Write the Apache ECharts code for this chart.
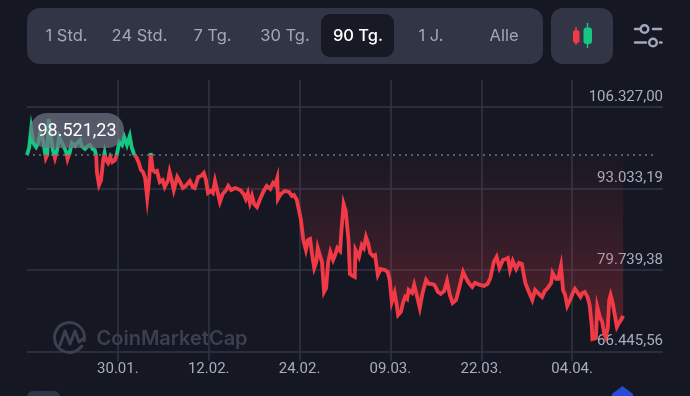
<!DOCTYPE html>
<html><head><meta charset="utf-8">
<style>html,body{margin:0;padding:0;background:#151823}#c{width:690px;height:396px}</style>
<script src="https://cdn.jsdelivr.net/npm/echarts@6/dist/echarts.min.js"></script>
</head><body><div id="c"></div>
<script>
const tabs = ['1 Std.','24 Std.','7 Tg.','30 Tg.','90 Tg.','1 J.','Alle'];
const xTickLabels = ['30.01.','12.02.','24.02.','09.03.','22.03.','04.04.'];
const yTickLabels = ['66.445,56','79.739,38','93.033,19','106.327,00'];
const yMin = 66445.56;
const yStep = 13293.81;
const baseValue = 98521.23;
const baseLabel = '98.521,23';
const days = [-13,-12.7,-12.4,-12.1,-11.7,-11.4,-11.1,-10.7,-10.3,-10.1,-9.9,-9.6,-9.3,-9,-8.7,-8.4,-8,-7.7,-7.4,-7.2,-6.9,-6.6,-6.1,-5.7,-5.4,-5.2,-4.7,-4.3,-4,-3.6,-3.3,-3.1,-3,-2.7,-2.4,-2.1,-1.9,-1.7,-1.4,-1.1,-0.8,-0.4,-0.1,0.2,0.6,0.9,1.3,1.7,2,2.3,2.7,3,3.3,3.6,3.9,4.2,4.5,4.7,5,5.3,5.6,6,6.4,6.7,7.2,7.4,7.7,8,8.5,8.9,9.3,9.7,10.3,10.7,11,11.5,11.9,12.3,12.6,12.9,13.3,13.6,13.9,14.2,14.6,15,15.5,15.8,16.2,16.8,17.5,18,18.3,18.6,18.9,19.2,19.5,19.9,20.3,20.8,21.3,21.8,22.2,22.5,22.8,22.9,23.3,23.9,24.5,24.9,25.2,25.6,25.9,26.2,26.5,26.6,26.9,27.2,27.5,27.8,28.1,28.4,28.6,28.9,29.2,29.5,29.8,30.1,30.4,30.8,31.1,31.4,31.8,32,32.3,32.6,32.8,33,33.2,33.6,33.9,34,34.5,34.9,35.2,35.5,35.8,36.1,36.5,36.8,37.2,37.6,38.2,38.6,38.9,39.2,39.6,39.9,40.1,40.5,40.8,41.1,41.4,41.6,42.1,42.4,42.8,43.2,43.6,44.1,44.5,44.9,45.3,45.8,46.2,46.7,47.1,47.5,47.9,48.4,48.8,49.4,49.8,50.2,50.7,51.1,51.8,52.4,52.9,53.3,53.8,54.2,54.6,55.1,55.5,55.8,56.1,56.5,57,57.4,57.8,58.3,58.7,59.3,59.7,60.1,60.7,61.1,61.5,62,62.2,62.7,63,63.4,63.7,64,64.3,64.7,65.1,65.4,65.8,66.2,66.5,66.8,67.2,67.5,67.8,67.9,68.4,68.6,69,69.3,69.6,69.8,70.1,70.3,70.5,70.8,71.1,71.4,71.7,72,72.3];
const prices = [98503,99644,102741,100459,99807,100459,102089,100948,98014,98500,104371,101763,99318,98014,99318,101437,100459,99807,98992,97851,98829,100459,99970,100622,100948,99970,99481,99970,100133,99481,99318,98340,95732,93613,94428,97688,98829,97688,97199,98177,97362,97688,98829,100622,100133,101437,100133,101600,99644,98666,98014,97199,96058,95732,94754,91494,94754,98829,96058,95732,95895,94102,94428,93287,94428,95732,94428,92798,94917,94102,93124,93450,94265,93287,93124,94917,95080,95569,94428,92309,92635,92309,94265,92798,90842,92146,92798,93450,92798,93124,92798,92146,91331,92309,90679,91820,90516,90027,91168,92472,93450,92961,93939,93613,94754,91331,92146,92635,92472,91820,91983,91168,89538,87908,84974,84322,83018,84648,84811,82203,80084,81062,83344,82203,81062,76172,76824,81062,82692,81388,82203,83344,82855,86278,90516,89375,89049,84648,79106,78780,78617,83018,81877,83833,83344,85137,84159,82529,82040,82203,78943,79921,79758,79432,78128,74542,76009,74053,72423,72912,74379,75357,75031,76498,76009,77313,75520,73564,76009,78128,77476,77476,77313,76172,75846,76335,77965,75683,74379,74868,76661,79432,78454,77639,76987,77639,77313,77150,77476,78454,81062,81877,80084,81388,81551,81714,79758,81225,79921,80899,80736,77639,76498,74868,76498,76009,75357,76335,76824,77639,79269,78291,78291,80410,76498,75683,73890,74868,76009,76661,76009,75357,76009,76172,75357,74053,70793,68511,68674,73727,71934,71282,69326,68837,70304,74868,75683,74379,72423,70467,71119,71608,72260];

const GREEN='#16c784', RED='#f23a47', GRID='#323546', MUTED='#a7adbf', PANEL='#323546', BG='#151823';
const seriesData = days.map((d,i)=>[d,prices[i]]);
const chart = echarts.init(document.getElementById('c'),null,{renderer:'canvas'});

const tabCenters=[66.5,139.5,212.5,285,358,431,504];
const tabGraphics=tabs.map((t,i)=>({type:'text',z:5,x:tabCenters[i],y:36,style:{text:t,fontFamily:'Inter',fontSize:16.5,fontWeight:i===4?500:400,fill:i===4?'#ffffff':'#a1a7bb',align:'center',verticalAlign:'middle'}}));

chart.setOption({
  animation:false,
  backgroundColor:BG,
  grid:[
    {left:27,right:27,top:80,height:281},
    {left:27,right:27,top:107,height:244.6}
  ],
  xAxis:[
    {gridIndex:0,type:'value',min:-13,max:78,interval:13,
     axisLine:{show:false},axisTick:{show:false},
     splitLine:{show:true,showMinLine:false,showMaxLine:false,lineStyle:{color:GRID,width:1.5}},
     axisLabel:{show:true,showMinLabel:false,showMaxLabel:false,margin:1,color:MUTED,fontFamily:'Roboto',fontSize:15,
       formatter:v=>xTickLabels[Math.round(v/13)]||''}},
    {gridIndex:1,type:'value',min:-13,max:78,interval:13,show:false,splitLine:{show:false}}
  ],
  yAxis:[
    {gridIndex:0,type:'value',min:0,max:1,show:false,splitLine:{show:false}},
    {gridIndex:1,type:'value',position:'right',min:yMin,max:yMin+3*yStep,interval:yStep,
     axisLine:{show:false},axisTick:{show:false},
     splitLine:{show:true,lineStyle:{color:GRID,width:1.5}},
     axisLabel:{inside:true,margin:0,color:MUTED,fontFamily:'Roboto',fontSize:15,align:'right',verticalAlign:'bottom',lineHeight:20,
       formatter:v=>yTickLabels[Math.round((v-yMin)/yStep)]||''}}
  ],
  visualMap:{type:'piecewise',show:false,dimension:1,seriesIndex:0,
    pieces:[{gte:baseValue,lte:200000,color:GREEN},{gte:0,lt:baseValue,color:RED}]},
  series:[{
    type:'line',xAxisIndex:1,yAxisIndex:1,data:seriesData,showSymbol:false,symbol:'none',smooth:false,
    lineStyle:{width:3.8,join:'miter'},
    areaStyle:{origin:baseValue,opacity:1,color:new echarts.graphic.LinearGradient(0,155,0,340,[
      {offset:0,color:'rgba(234,57,67,0.02)'},{offset:1,color:'rgba(234,57,67,0.30)'}],true)},
    markLine:{silent:true,symbol:'none',animation:false,label:{show:false},
      lineStyle:{color:'#6f7385',type:[2,4],width:1.5},
      data:[[{coord:[-13,baseValue]},{coord:[77,baseValue]}]]}
  }],
  graphic:[
    {type:'rect',z:1,shape:{x:27,y:8,width:516,height:56,r:13},style:{fill:PANEL}},
    {type:'rect',z:2,shape:{x:321,y:14,width:73,height:43,r:9},style:{fill:'#171924'}},
    ...tabGraphics,
    {type:'rect',z:1,shape:{x:551,y:8,width:62,height:56,r:12},style:{fill:PANEL}},
    {type:'line',z:3,shape:{x1:576,y1:27,x2:576,y2:45},style:{stroke:RED,lineWidth:1.5}},
    {type:'rect',z:4,shape:{x:573,y:30,width:6.5,height:13,r:2.5},style:{fill:RED}},
    {type:'line',z:3,shape:{x1:587.5,y1:23,x2:587.5,y2:48},style:{stroke:GREEN,lineWidth:1.5}},
    {type:'rect',z:4,shape:{x:583.5,y:27.5,width:8.5,height:16.5,r:3},style:{fill:GREEN}},
    {type:'line',z:3,shape:{x1:635,y1:29,x2:640,y2:29},style:{stroke:'#a1a7bb',lineWidth:2.5,lineCap:'round'}},
    {type:'circle',z:3,shape:{cx:644.5,cy:29,r:3.8},style:{fill:'none',stroke:'#a1a7bb',lineWidth:2.5}},
    {type:'line',z:3,shape:{x1:653,y1:29,x2:661,y2:29},style:{stroke:'#a1a7bb',lineWidth:2.5,lineCap:'round'}},
    {type:'line',z:3,shape:{x1:635,y1:42.5,x2:646,y2:42.5},style:{stroke:'#a1a7bb',lineWidth:2.5,lineCap:'round'}},
    {type:'circle',z:3,shape:{cx:653,cy:42.5,r:3.8},style:{fill:'none',stroke:'#a1a7bb',lineWidth:2.5}},
    {type:'line',z:3,shape:{x1:660,y1:42.5,x2:661.5,y2:42.5},style:{stroke:'#a1a7bb',lineWidth:2.5,lineCap:'round'}},
    {type:'arc',z:1,shape:{cx:69.5,cy:337.5,r:15,startAngle:0.6,endAngle:0.2,clockwise:true},style:{fill:'none',stroke:'#3c3f50',lineWidth:3,lineCap:'round'}},
    {type:'polyline',z:1,shape:{points:[[60,345],[65,331],[70,344],[75,331],[79,342],[84,338]]},style:{fill:'none',stroke:'#3c3f50',lineWidth:3,lineJoin:'round',lineCap:'round'}},
    {type:'text',z:1,x:96.5,y:339,style:{text:'CoinMarketCap',fontFamily:'Inter',fontSize:20,fontWeight:600,fill:'#3c3f50',align:'left',verticalAlign:'middle'}},
    {type:'rect',z:100,shape:{x:30,y:113,width:94,height:35,r:17},style:{fill:'rgba(112,115,130,0.72)'}},
    {type:'text',z:101,x:77,y:131,style:{text:baseLabel,fontFamily:'Roboto',fontSize:18,fill:'#ffffff',align:'center',verticalAlign:'middle'}},
    {type:'rect',z:1,shape:{x:27,y:391,width:33,height:14,r:6},style:{fill:PANEL}},
    {type:'polygon',z:1,shape:{points:[[622.5,386],[633,394],[633,396],[612,396],[612,394]]},style:{fill:'#2a4bd8'}}
  ]
});
</script></body></html>
